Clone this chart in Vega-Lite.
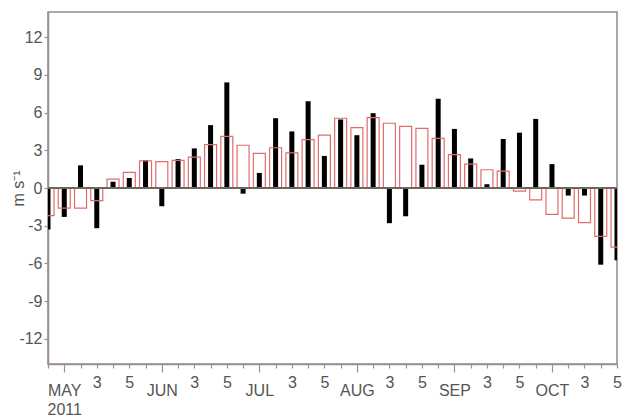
{
  "$schema": "https://vega.github.io/schema/vega-lite/v6.json",
  "width": 569,
  "height": 352,
  "autosize": {"type": "none"},
  "padding": {"left": 48, "top": 12, "right": 5, "bottom": 56},
  "background": "white",
  "config": {"view": {"stroke": "#8f8a86", "strokeWidth": 1.5}, "font": "Liberation Sans"},
  "data": {"values": [
    {"p": 0, "black": -3.3, "red": -2.2},
    {"p": 1, "black": -2.3, "red": -1.6},
    {"p": 2, "black": 1.8, "red": -1.6},
    {"p": 3, "black": -3.2, "red": -1.0},
    {"p": 4, "black": 0.5, "red": 0.7},
    {"p": 5, "black": 0.8, "red": 1.25},
    {"p": 6, "black": 2.2, "red": 2.15},
    {"p": 7, "black": -1.45, "red": 2.1},
    {"p": 8, "black": 2.3, "red": 2.2},
    {"p": 9, "black": 3.15, "red": 2.45},
    {"p": 10, "black": 5.0, "red": 3.45},
    {"p": 11, "black": 8.4, "red": 4.1},
    {"p": 12, "black": -0.45, "red": 3.4},
    {"p": 13, "black": 1.2, "red": 2.75},
    {"p": 14, "black": 5.55, "red": 3.2},
    {"p": 15, "black": 4.5, "red": 2.8},
    {"p": 16, "black": 6.9, "red": 3.85},
    {"p": 17, "black": 2.55, "red": 4.2},
    {"p": 18, "black": 5.45, "red": 5.55},
    {"p": 19, "black": 4.2, "red": 4.8},
    {"p": 20, "black": 5.95, "red": 5.6},
    {"p": 21, "black": -2.8, "red": 5.15},
    {"p": 22, "black": -2.25, "red": 4.9},
    {"p": 23, "black": 1.85, "red": 4.75},
    {"p": 24, "black": 7.1, "red": 3.95},
    {"p": 25, "black": 4.7, "red": 2.65},
    {"p": 26, "black": 2.35, "red": 1.9},
    {"p": 27, "black": 0.3, "red": 1.45},
    {"p": 28, "black": 3.9, "red": 1.35},
    {"p": 29, "black": 4.4, "red": -0.25},
    {"p": 30, "black": 5.5, "red": -0.95},
    {"p": 31, "black": 1.9, "red": -2.1},
    {"p": 32, "black": -0.6, "red": -2.4},
    {"p": 33, "black": -0.6, "red": -2.75},
    {"p": 34, "black": -6.1, "red": -3.85},
    {"p": 35, "black": -5.75, "red": -4.7}
  ]},
  "encoding": {
    "x": {
      "field": "p", "type": "quantitative",
      "scale": {"domain": [0, 35], "nice": false, "zero": false, "padding": 0},
      "axis": {
        "values": [0,1,2,3,4,5,6,7,8,9,10,11,12,13,14,15,16,17,18,19,20,21,22,23,24,25,26,27,28,29,30,31,32,33,34,35],
        "title": null,
        "grid": false,
        "tickSize": {"condition": {"test": "(datum.value-1)%6==0", "value": 8}, "value": 4},
        "labelPadding": {"condition": {"test": "(datum.value-1)%6==0", "value": 10}, "value": 6},
        "labelExpr": "datum.value==1 ? ['MAY','2011'] : datum.value==7 ? 'JUN' : datum.value==13 ? 'JUL' : datum.value==19 ? 'AUG' : datum.value==25 ? 'SEP' : datum.value==31 ? 'OCT' : (datum.value-1)%6==2 ? '3' : (datum.value-1)%6==4 ? '5' : ''",
        "labelFontSize": 16,
        "labelColor": "#555555",
        "labelBaseline": "top",
        "labelFlush": false,
        "labelOverlap": false,
        "labelLineHeight": 19,
        "domainColor": "#9b918a",
        "domainWidth": 1.5,
        "tickColor": "#9b918a",
        "tickWidth": 1.2
      }
    }
  },
  "layer": [
    {
      "mark": {"type": "bar", "color": "black", "width": 5, "clip": true},
      "encoding": {
        "y": {
          "field": "black", "type": "quantitative",
          "scale": {"domain": [-14, 14], "nice": false},
          "axis": {
            "values": [-12, -9, -6, -3, 0, 3, 6, 9, 12],
            "labelExpr": "'' + datum.value",
            "grid": false,
            "title": "m s⁻¹",
            "titleFontSize": 16,
            "titleFontWeight": "normal",
            "titleColor": "#555555",
            "titleX": -30,
            "titleY": 176,
            "titleAngle": -90,
            "titleAlign": "center",
            "titleBaseline": "middle",
            "labelFontSize": 16,
            "labelColor": "#555555",
            "tickSize": 4,
            "labelPadding": 2,
            "domainColor": "#9b918a",
            "domainWidth": 1.5,
            "tickColor": "#9b918a",
            "tickWidth": 1.2
          }
        }
      }
    },
    {
      "mark": {"type": "bar", "filled": false, "stroke": "#e06c6c", "strokeWidth": 1.2, "width": 12, "clip": true},
      "encoding": {
        "y": {"field": "red", "type": "quantitative"}
      }
    },
    {
      "mark": {"type": "rule", "color": "#6f6660", "strokeWidth": 1.5},
      "encoding": {"y": {"datum": 0}, "x": null}
    }
  ]
}
